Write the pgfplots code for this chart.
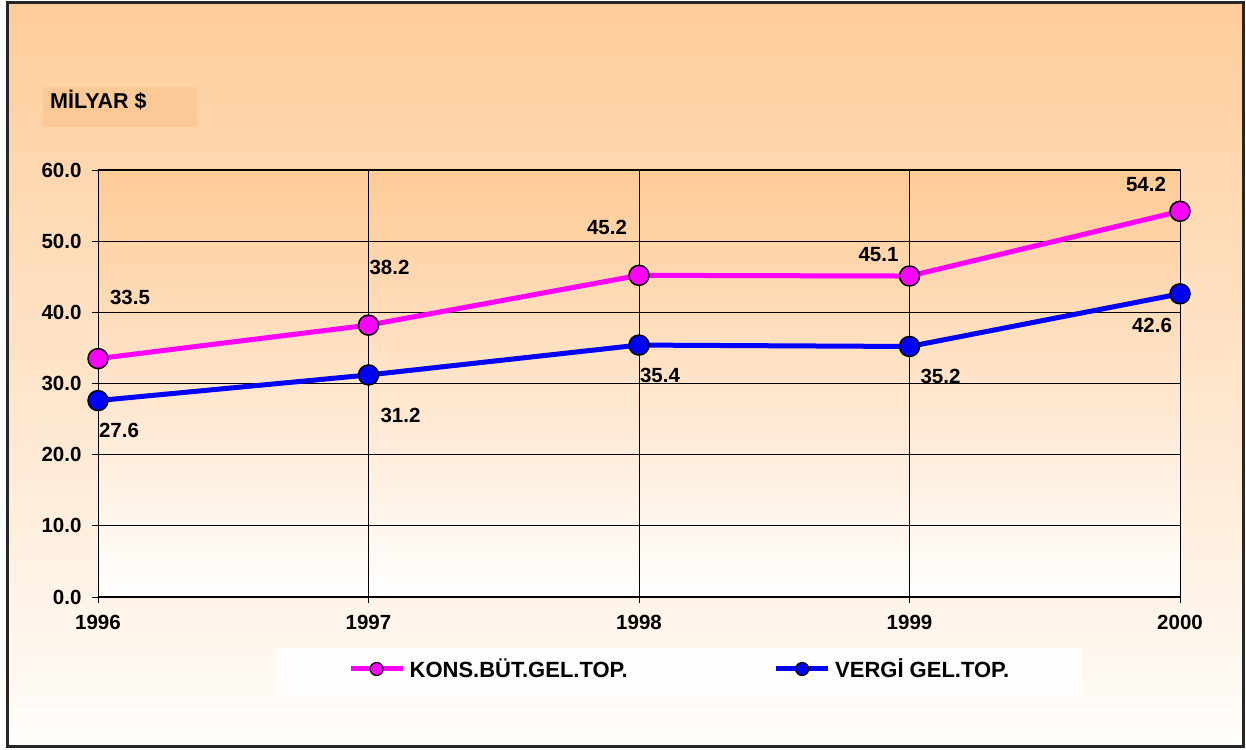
\documentclass[border=0pt]{standalone}
\usepackage{pgfplots}
\pgfplotsset{compat=1.18}
\usepackage{fontspec}
\setmainfont{Liberation Sans}
\definecolor{peach}{RGB}{255,204,153}
\definecolor{peachbox}{RGB}{251,201,150}
\definecolor{bgbottom}{RGB}{255,253,251}
\definecolor{pinkline}{RGB}{255,0,255}
\definecolor{blueline}{RGB}{0,0,255}
\newcommand{\lblfont}{\fontsize{20.5}{24}\selectfont\bfseries}
\begin{document}
\begin{tikzpicture}[x=1pt,y=1pt]
\useasboundingbox (0,0) rectangle (1246,749);
\shade[top color=peach,bottom color=bgbottom] (7,3) rectangle (1243,746);
\draw[line width=3pt, black!85] (7,3) rectangle (1243,746);
\fill[peachbox] (43,622) rectangle (197,662);
\node[anchor=west, inner sep=0pt, font=\fontsize{21.5}{25}\selectfont\bfseries] at (50,648.5) {MİLYAR \$};
\fill[white!97!peach] (275,53) rectangle (1082,101);
\begin{axis}[
  at={(98pt,152pt)}, anchor=south west,
  scale only axis, width=1082pt, height=427pt,
  xmin=1996, xmax=2000, ymin=0, ymax=60,
  xtick={1996,1997,1998,1999,2000},
  xticklabels={1996,1997,1998,1999,2000},
  ytick={0,10,...,60},
  yticklabel style={xshift=-7pt, /pgf/number format/.cd, fixed, fixed zerofill, precision=1},
  xticklabel style={yshift=-9pt},
  /pgf/number format/assume math mode=true,
  tick label style={font=\lblfont, text=black},
  tick align=outside, tick pos=left,
  major tick length=6pt,
  tick style={black, line width=0.8pt},
  grid=major,
  major grid style={black, line width=0.8pt},
  axis line style={black, line width=1pt},
  axis background/.style={shade, top color=peach!98!orange, bottom color=white},
  clip=false,
  legend columns=2,
  legend style={draw=none, fill=none, inner sep=0pt,
    at={(0.2310,-0.1686)}, anchor=west, font=\fontsize{22}{26}\selectfont\bfseries,
    /tikz/every odd column/.append style={column sep=2.5pt},
    /tikz/every even column/.append style={column sep=144pt}},
  nodes near coords={\pgfmathprintnumber[fixed,fixed zerofill,precision=1]{\pgfplotspointmeta}},
  visualization depends on={\thisrow{dx}\as\dx},
  visualization depends on={\thisrow{dy}\as\dy},
  every node near coord/.append style={anchor=center, xshift=\dx pt, yshift=\dy pt, font=\lblfont, text=black},
]
\addplot[pinkline, line width=5pt, mark=*, mark size=10pt,
  mark options={fill=pinkline, draw=black, line width=1.5pt},
  legend image code/.code={\draw[pinkline,line width=5pt](0pt,0pt)--(52pt,0pt);
    \draw[fill=pinkline,draw=black,line width=1.2pt](26pt,0pt) circle (6.5pt);}]
table {
x y dx dy
1996 33.5 32 61
1997 38.2 21 58
1998 45.2 -32 48
1999 45.1 -31 21
2000 54.2 -34 27
};
\addlegendentry{KONS.BÜT.GEL.TOP.}
\addplot[blueline, line width=5pt, mark=*, mark size=10pt,
  mark options={fill=blueline, draw=black, line width=1.5pt},
  legend image code/.code={\draw[blueline,line width=5pt](0pt,0pt)--(52pt,0pt);
    \draw[fill=blueline,draw=black,line width=1.2pt](26pt,0pt) circle (6.5pt);}]
table {
x y dx dy
1996 27.6 21 -30
1997 31.2 32 -40
1998 35.4 21 -30
1999 35.2 31 -30
2000 42.6 -28 -32
};
\addlegendentry{VERGİ GEL.TOP.}
\end{axis}
\end{tikzpicture}
\end{document}
